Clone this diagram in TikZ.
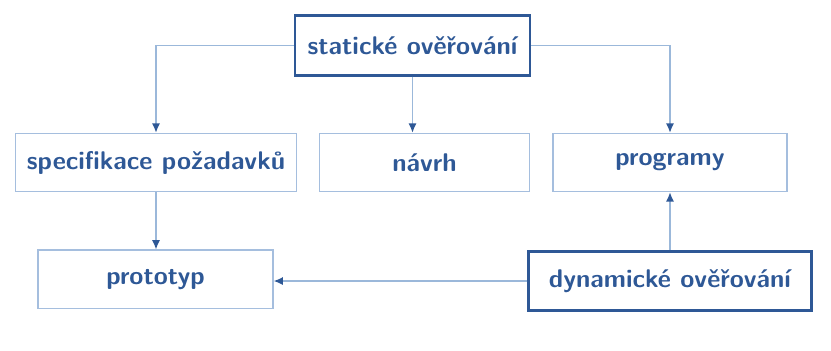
\documentclass[tikz,border=0pt]{standalone}
\usepackage{fontspec}
\usepackage{xcolor}
\usepackage{tikz}
\usetikzlibrary{positioning,arrows.meta}

\definecolor{boxblue}{RGB}{46,88,150}
\definecolor{edgeblue}{RGB}{165,190,222}
\definecolor{lineblue}{RGB}{155,184,218}

\begin{document}
\begin{tikzpicture}[
x=0.43pt, y=-0.43pt,
font=\sffamily\bfseries\fontsize{11}{13}\selectfont,
box/.style={rectangle, draw=edgeblue, line width=0.6pt, text=boxblue, minimum height=25pt},
bigbox/.style={rectangle, draw=boxblue, line width=1.2pt, text=boxblue, minimum height=25.6pt},
link/.style={draw=lineblue, line width=0.6pt, -{Latex[length=4pt,width=3.5pt,color=boxblue]}},
]
\useasboundingbox (0,0) rectangle (831,350);

%Verification boxes
\node[bigbox, minimum width=101pt] (stat) at (412.5,45.5) {statické ověřování};
\node[bigbox, minimum width=121.5pt] (dyn) at (670,281) {dynamické ověřování};

%Products
\node[box, minimum width=121pt] (spec) at (156,162.5) {specifikace požadavků};
\node[box, minimum width=90.5pt] (navrh) at (424.5,162.5) {návrh};
\node[box, minimum width=100.5pt] (prog) at (670,162.5) {programy};
\node[box, minimum width=101pt] (proto) [below=24.6pt of spec.south west, anchor=north west, xshift=9.8pt] {prototyp};

%Draw lines
%Static
\draw[link] (stat.west) -| (spec.north);
\draw[link] (stat.east) -| (prog.north);
\draw[link] (stat.south) -- (stat.south |- navrh.north);

%Dynamic
\draw[link] (dyn.north) -- (prog.south);
\draw[link] (dyn.west) -- (dyn.west -| proto.east);

%Specification to prototype
\draw[link] (spec.south) -- (spec.south |- proto.north);
\end{tikzpicture}
\end{document}
